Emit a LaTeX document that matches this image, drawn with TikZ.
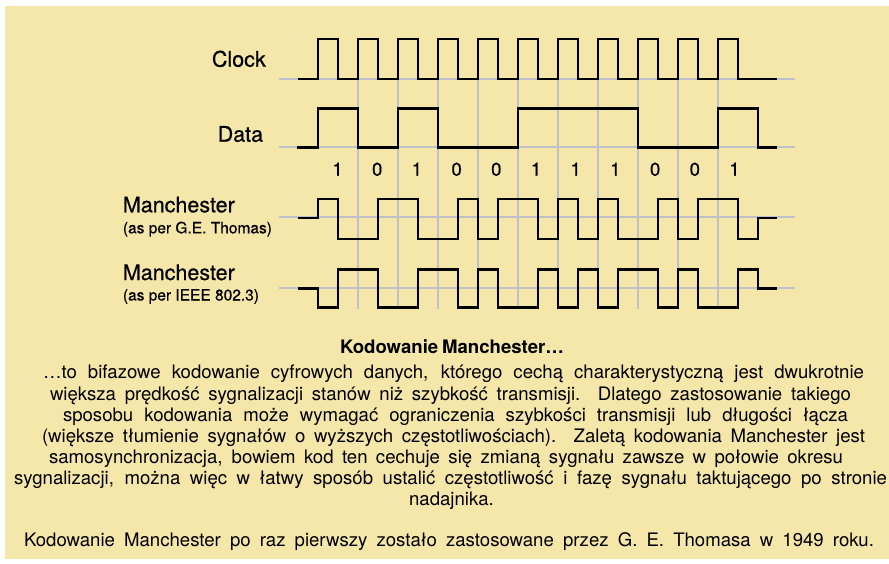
\documentclass[tikz,border=0pt]{standalone}
\usepackage{fontspec}
\setmainfont{TeX Gyre Heros}
\newfontfamily\labelfont{TeX Gyre Heros}[FakeBold=0.6]

\definecolor{paper}{RGB}{245,230,170}
\definecolor{gridgray}{RGB}{192,192,202}

\tikzset{
  gridline/.style={draw=gridgray, line width=2pt},
  signal/.style={draw=black, line width=2.6pt, line join=miter},
  lbl/.style={inner sep=0pt, font=\labelfont\fontsize{21.5}{24}\selectfont},
  sublbl/.style={inner sep=0pt, font=\labelfont\fontsize{15.5}{18}\selectfont},
  digit/.style={inner sep=0pt, font=\labelfont\fontsize{18.5}{20}\selectfont},
  capt/.style={inner sep=0pt, anchor=base, font=\fontsize{18.6}{22}\selectfont},
}

\begin{document}
\begin{tikzpicture}[x=1pt, y=-1pt]
  \useasboundingbox (0,0) rectangle (889,564);
  \fill[white] (0,0) rectangle (889,564);
  \fill[paper] (5,6) rectangle (889,559);

  % bit grid
  \foreach \k in {1,...,10}
    \draw[gridline] (317.8+40*\k, 79) -- (317.8+40*\k, 309);
  \foreach \yy in {79,147.3,217,288.3}
    \draw[gridline] (279,\yy) -- (795,\yy);

  % clock
  \draw[signal] (298,79) -- (317.8,79)
    foreach \k in {0,...,10} { -- (317.8+40*\k,39) -- (337.8+40*\k,39)
                               -- (337.8+40*\k,79) -- (357.8+40*\k,79) }
    -- (776.7,79);

  % data 1 0 1 0 0 1 1 1 0 0 1
  \draw[signal] (296.7,147.3) -- (317.8,147.3)
    foreach \k/\lv in {0/108.3,1/147.3,2/108.3,3/147.3,4/147.3,5/108.3,
                       6/108.3,7/108.3,8/147.3,9/147.3,10/108.3}
      { -- (317.8+40*\k,\lv) -- (357.8+40*\k,\lv) }
    -- (757.8,147.3) -- (776.7,147.3);

  % Manchester, G.E. Thomas convention
  \draw[signal] (298,218) -- (317.8,218)
    foreach \k/\lv in {0/199,1/239,2/239,3/199,4/199,5/239,6/239,7/199,
                       8/239,9/199,10/199,11/239,12/199,13/239,14/199,15/239,
                       16/239,17/199,18/239,19/199,20/199,21/239}
      { -- (317.8+20*\k,\lv) -- (337.8+20*\k,\lv) }
    -- (757.8,218) -- (776.7,218);

  % Manchester, IEEE 802.3 convention
  \draw[signal] (298,288.3) -- (317.8,288.3)
    foreach \k/\lv in {0/307.7,1/269.3,2/269.3,3/307.7,4/307.7,5/269.3,6/269.3,7/307.7,
                       8/269.3,9/307.7,10/307.7,11/269.3,12/307.7,13/269.3,14/307.7,15/269.3,
                       16/269.3,17/307.7,18/269.3,19/307.7,20/307.7,21/269.3}
      { -- (317.8+20*\k,\lv) -- (337.8+20*\k,\lv) }
    -- (757.8,288.3) -- (776.7,288.3);

  % row labels
  \node[lbl, anchor=base east] (clk) at (266,66.7) {Clock};
  \node[lbl, anchor=base east] (dat) at (263.3,141.7) {Data};
  \node[lbl, anchor=base west] (man1) at (122.7,212.3) {Manchester};
  \node[sublbl, anchor=base west] (man1s) at (122.7,233.3) {(as per G.E. Thomas)};
  \node[lbl, anchor=base west] (man2) at (122.7,280) {Manchester};
  \node[sublbl, anchor=base west] (man2s) at (122.7,300.5) {(as per IEEE 802.3)};

  % bit values
  \foreach \b [count=\i from 0] in {1,0,1,0,0,1,1,1,0,0,1}
    \node[digit, anchor=base] (bit\i) at (337.5+39.7*\i,175.7) {\b};

  % description
  \node[capt] (head) at (452,353.3)
    {\makebox[224pt][s]{\bfseries Kodowanie Manchester…}};
  \node[capt] (l1) at (453.5,378.7)
    {\makebox[821pt][s]{…to bifazowe kodowanie cyfrowych danych, którego cechą charakterystyczną jest dwukrotnie}};
  \node[capt] (l2) at (450.5,400)
    {\makebox[801pt][s]{większa prędkość sygnalizacji stanów niż szybkość transmisji. Dlatego zastosowanie takiego}};
  \node[capt] (l3) at (455.5,421.2)
    {\makebox[785pt][s]{sposobu kodowania może wymagać ograniczenia szybkości transmisji lub długości łącza}};
  \node[capt] (l4) at (453.5,442.3)
    {\makebox[823pt][s]{(większe tłumienie sygnałów o wyższych częstotliwościach). Zaletą kodowania Manchester jest}};
  \node[capt] (l5) at (446,463.3)
    {\makebox[794pt][s]{samosynchronizacja, bowiem kod ten cechuje się zmianą sygnału zawsze w połowie okresu}};
  \node[capt] (l6) at (450.5,484.5)
    {\makebox[873pt][s]{sygnalizacji, można więc w łatwy sposób ustalić częstotliwość i fazę sygnału taktującego po stronie}};
  \node[capt] (l7) at (451.5,505.7)
    {nadajnika.};
  \node[capt] (l8) at (449,546.7)
    {\makebox[850pt][s]{Kodowanie Manchester po raz pierwszy zostało zastosowane przez G. E. Thomasa w 1949 roku.}};
\end{tikzpicture}
\end{document}
